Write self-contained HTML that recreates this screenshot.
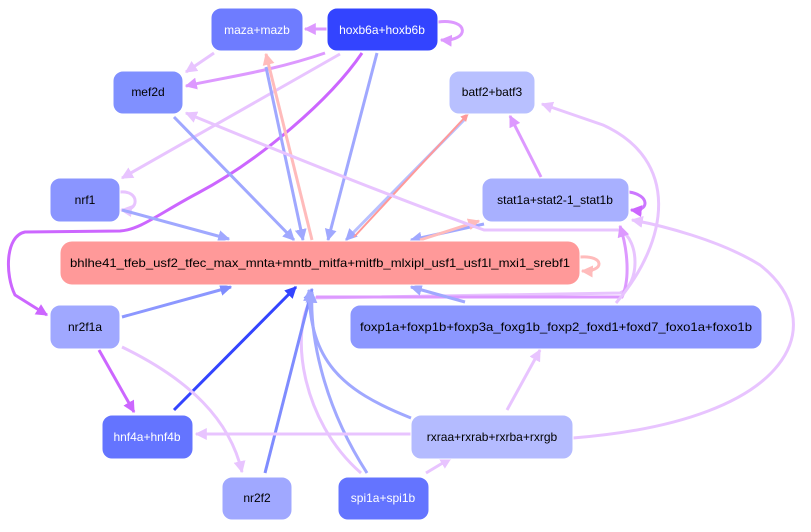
<!DOCTYPE html>
<html><head><meta charset="utf-8"><style>
body{margin:0;background:#fff;width:811px;height:527px;overflow:hidden}
svg text{font-family:"Liberation Sans",sans-serif;font-size:12px;text-anchor:middle;dominant-baseline:central}
</style></head><body>
<svg width="811" height="527" viewBox="0 0 811 527" xmlns="http://www.w3.org/2000/svg">
<defs>
<marker id="lv" viewBox="0 0 10 10" refX="9" refY="5" markerWidth="4" markerHeight="4" orient="auto"><path d="M0,0L10,5L0,10z" fill="#e8c4ff"/></marker>
<marker id="v" viewBox="0 0 10 10" refX="9" refY="5" markerWidth="4" markerHeight="4" orient="auto"><path d="M0,0L10,5L0,10z" fill="#dd99ff"/></marker>
<marker id="p" viewBox="0 0 10 10" refX="9" refY="5" markerWidth="4" markerHeight="4" orient="auto"><path d="M0,0L10,5L0,10z" fill="#cc66ff"/></marker>
<marker id="b" viewBox="0 0 10 10" refX="9" refY="5" markerWidth="4" markerHeight="4" orient="auto"><path d="M0,0L10,5L0,10z" fill="#a0a8ff"/></marker>
<marker id="b2" viewBox="0 0 10 10" refX="9" refY="5" markerWidth="4" markerHeight="4" orient="auto"><path d="M0,0L10,5L0,10z" fill="#7f8cff"/></marker>
<marker id="db" viewBox="0 0 10 10" refX="9" refY="5" markerWidth="4" markerHeight="4" orient="auto"><path d="M0,0L10,5L0,10z" fill="#3344ff"/></marker>
<marker id="pk" viewBox="0 0 10 10" refX="9" refY="5" markerWidth="4" markerHeight="4" orient="auto"><path d="M0,0L10,5L0,10z" fill="#ffbbbb"/></marker>
<marker id="sa" viewBox="0 0 10 10" refX="9" refY="5" markerWidth="4" markerHeight="4" orient="auto"><path d="M0,0L10,5L0,10z" fill="#ff9999"/></marker>
</defs>
<g fill="none" stroke-width="3">
<path d="M327,29 L305,29" stroke="#dd99ff" marker-end="url(#v)"/>
<path d="M438,22 C470,18 470,42 441,40" stroke="#dd99ff" marker-end="url(#v)"/>
<path d="M214,53 L186,72" stroke="#e8c4ff" marker-end="url(#lv)"/>
<path d="M325,53 C270,72 220,78 186,86" stroke="#dd99ff" marker-end="url(#v)"/>
<path d="M340,54 L122,178" stroke="#e8c4ff" marker-end="url(#lv)"/>
<path d="M362,53 C330,100 260,160 198,193 C160,213 140,230 120,231 L25,232 C5,236 5,275 15,295 L47,315" stroke="#cc66ff" marker-end="url(#p)"/>
<path d="M174,117 L294,240" stroke="#a0a8ff" marker-end="url(#b)"/>
<path d="M312,240 L266,54" stroke="#ffbbbb" marker-end="url(#pk)"/>
<path d="M266,67 L303,240" stroke="#a0a8ff" marker-end="url(#b)"/>
<path d="M377,53 L328,240" stroke="#a0a8ff" marker-end="url(#b)"/>
<path d="M466,118 L346,240" stroke="#b8c0ff" marker-end="url(#b)"/>
<path d="M354,237 L468,114" stroke="#ff9999" stroke-width="2" marker-end="url(#sa)"/>
<path d="M541,177 L510,116" stroke="#dd99ff" marker-end="url(#v)"/>
<path d="M120,192 C140,190 140,212 121,210" stroke="#e8c4ff" marker-end="url(#lv)"/>
<path d="M122,210 L229,239" stroke="#a0a8ff" marker-end="url(#b)"/>
<path d="M484,224 L411,240" stroke="#a0a8ff" marker-end="url(#b)"/>
<path d="M420,240 L479,221" stroke="#ffbbbb" marker-end="url(#pk)"/>
<path d="M629,192 C650,195 650,212 631,210" stroke="#cc77ff" marker-end="url(#p)"/>
<path d="M580,257 C605,255 605,272 582,271" stroke="#ffbbbb" marker-end="url(#pk)"/>
<path d="M361,473 C300,420 290,330 312,298 L620,293 C640,285 640,240 620,230 L484,230 C400,200 300,160 186,113" stroke="#e8c4ff" marker-end="url(#lv)"/>
<path d="M316,297 L622,297 C630,280 628,250 620,226" stroke="#dd99ff" marker-end="url(#v)"/>
<path d="M616,303 C670,240 680,160 603,125 L542,104" stroke="#e8c4ff" marker-end="url(#lv)"/>
<path d="M465,302 L411,287" stroke="#a0a8ff" marker-end="url(#b)"/>
<path d="M122,317 L231,287" stroke="#8c97ff" marker-end="url(#b2)"/>
<path d="M174,410 L296,287" stroke="#3344ff" marker-end="url(#db)"/>
<path d="M99,350 L134,412" stroke="#cc66ff" marker-end="url(#p)"/>
<path d="M122,347 C190,380 230,420 242,472" stroke="#e8c4ff" marker-end="url(#lv)"/>
<path d="M265,473 L312,289" stroke="#7f8cff" marker-end="url(#b2)"/>
<path d="M411,418 C340,390 310,360 309,290" stroke="#a0a8ff" marker-end="url(#b)"/>
<path d="M367,473 C320,400 310,330 312,292" stroke="#a0a8ff" marker-end="url(#b)"/>
<path d="M411,434 L196,434" stroke="#e8c4ff" marker-end="url(#lv)"/>
<path d="M507,410 L540,350" stroke="#e8c4ff" marker-end="url(#lv)"/>
<path d="M426,473 L451,458" stroke="#e8c4ff" marker-end="url(#lv)"/>
<path d="M573,438 C800,420 830,320 760,265 C720,240 660,225 632,220" stroke="#e8c4ff" marker-end="url(#lv)"/>
</g>
<g stroke="#fff" stroke-width="1">
<rect x="211" y="8" width="92" height="43" rx="10" fill="#6e7cff"/>
<rect x="327" y="8" width="111" height="43" rx="10" fill="#3344ff"/>
<rect x="113" y="71" width="70" height="43" rx="10" fill="#8090ff"/>
<rect x="449" y="71" width="86" height="43" rx="10" fill="#b8c0ff"/>
<rect x="50" y="178" width="70" height="44" rx="10" fill="#8a95ff"/>
<rect x="482" y="178" width="147" height="44" rx="10" fill="#a8b0ff"/>
<rect x="60" y="241" width="520" height="44" rx="12" fill="#ff9999"/>
<rect x="50" y="305" width="70" height="44" rx="10" fill="#a0a8ff"/>
<rect x="350" y="305" width="412" height="44" rx="10" fill="#8c97ff"/>
<rect x="102" y="415" width="91" height="44" rx="10" fill="#6474ff"/>
<rect x="411" y="415" width="162" height="44" rx="10" fill="#b4bbff"/>
<rect x="222" y="477" width="70" height="43" rx="10" fill="#a0a8ff"/>
<rect x="338" y="477" width="91" height="43" rx="10" fill="#6474ff"/>
</g>
<g fill="#000">
<text x="257" y="30" fill="#fff">maza+mazb</text>
<text x="382" y="30" fill="#fff">hoxb6a+hoxb6b</text>
<text x="148" y="92">mef2d</text>
<text x="492" y="92">batf2+batf3</text>
<text x="85" y="200">nrf1</text>
<text x="555" y="200">stat1a+stat2-1_stat1b</text>
<text x="320" y="263" textLength="500" lengthAdjust="spacingAndGlyphs">bhlhe41_tfeb_usf2_tfec_max_mnta+mntb_mitfa+mitfb_mlxipl_usf1_usf1l_mxi1_srebf1</text>
<text x="85" y="327">nr2f1a</text>
<text x="556" y="327" textLength="392" lengthAdjust="spacingAndGlyphs">foxp1a+foxp1b+foxp3a_foxg1b_foxp2_foxd1+foxd7_foxo1a+foxo1b</text>
<text x="147" y="437" fill="#fff">hnf4a+hnf4b</text>
<text x="492" y="437">rxraa+rxrab+rxrba+rxrgb</text>
<text x="257" y="498">nr2f2</text>
<text x="383" y="498" fill="#fff">spi1a+spi1b</text>
</g>
</svg>
</body></html>
